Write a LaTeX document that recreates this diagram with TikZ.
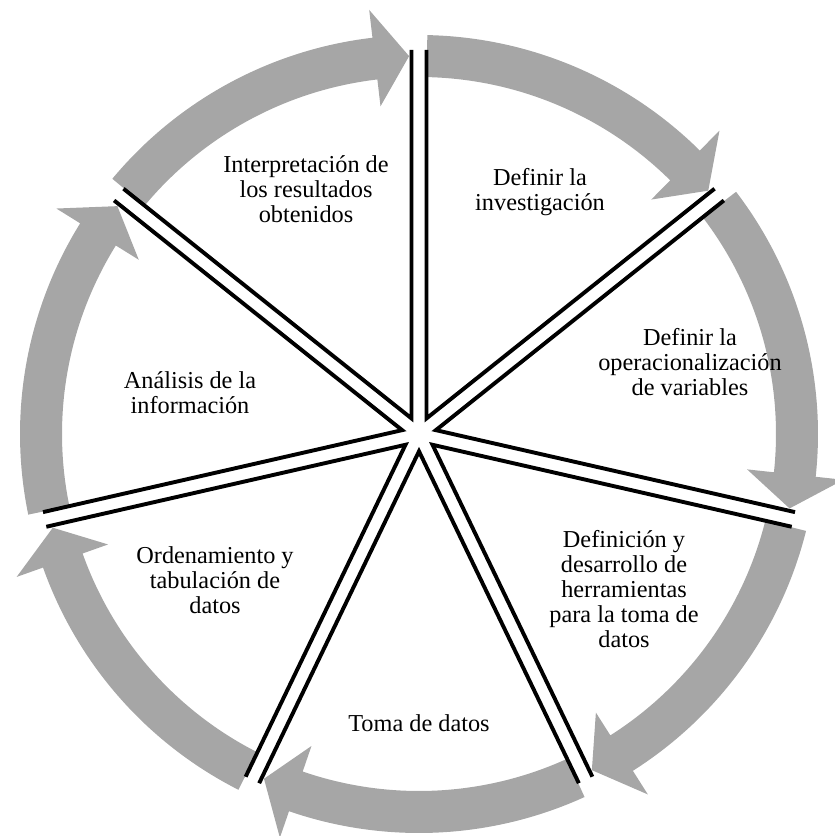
\documentclass[tikz,border=0pt]{standalone}
\usepackage{fontspec}
\setmainfont{Liberation Serif}
\usetikzlibrary{calc}
\definecolor{arrowgray}{RGB}{166,166,166}
\begin{document}
\begin{tikzpicture}[x=1pt,y=1pt,
  lbl/.style={align=center, font=\fontsize{24.3}{24.8}\selectfont, inner sep=0pt},
  spoke/.style={line width=3.9pt, line join=miter, black},
  ringarrow/.style={fill=arrowgray}]
\useasboundingbox (0,0) rectangle (835,836);
\coordinate (C) at (419,402);
% gray ring arrows
\foreach \k in {0,...,6} {
  \pgfmathsetmacro{\angA}{90-\k*360/7}
  \pgfmathsetmacro{\angNext}{\angA-360/7}
  \pgfmathsetmacro{\angS}{\angA-1.2}
  \pgfmathsetmacro{\angT}{\angNext+1.5}
  \pgfmathsetmacro{\angB}{\angT+5.2}
  \fill[ringarrow] ($(C)+(\angS:399pt)$) arc[start angle=\angS, end angle=\angB, radius=399pt]
     -- ($(C)+(\angB:427pt)$) -- ($(C)+(\angT:378pt)$) -- ($(C)+(\angB:330pt)$)
     -- ($(C)+(\angB:357pt)$) arc[start angle=\angB, end angle=\angS, radius=357pt] -- cycle;
}
% sector outlines (double spokes)
\foreach \k in {0,...,6} {
  \pgfmathsetmacro{\angA}{90-\k*360/7}
  \pgfmathsetmacro{\angNext}{\angA-360/7}
  \pgfmathsetmacro{\angBis}{\angA-180/7}
  \pgfmathsetmacro{\offA}{\angA-90}
  \pgfmathsetmacro{\offB}{\angNext+90}
  \draw[spoke] ($(C)+(\angA:384pt)+(\offA:7.5pt)$) -- ($(C)+(\angBis:17.3pt)$)
     -- ($(C)+(\angNext:384pt)+(\offB:7.5pt)$);
}
% labels
\node[lbl] (t1) at (306,647) {Interpretación de\\los resultados\\obtenidos};
\node[lbl] (t2) at (540,644) {Definir la\\investigación};
\node[lbl] (t3) at (690,474) {Definir la\\operacionalización\\de variables};
\node[lbl] (t4) at (624,247) {Definición y\\desarrollo de\\herramientas\\para la toma de\\datos};
\node[lbl] (t5) at (419,113) {Toma de datos};
\node[lbl] (t6) at (215,256) {Ordenamiento y\\tabulación de\\datos};
\node[lbl] (t7) at (190,443) {Análisis de la\\información};
\end{tikzpicture}
\end{document}
